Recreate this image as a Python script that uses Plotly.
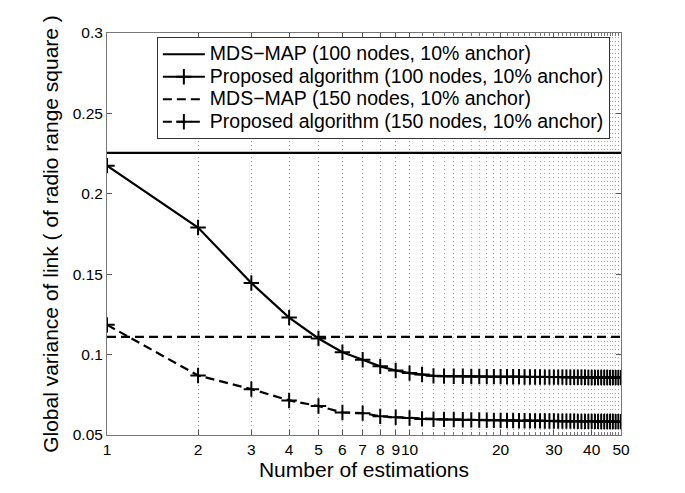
import plotly.graph_objects as go

# ---------------- data ----------------
estimations = list(range(1, 51))

mds_map_100 = 0.2255
mds_map_150 = 0.1110

proposed_100 = [0.2175, 0.1790, 0.1445, 0.1230, 0.1100, 0.1015, 0.0968, 0.0927, 0.0901, 0.0885,
                0.0876, 0.0868, 0.0866, 0.0865, 0.0865, 0.0864, 0.0864, 0.0863, 0.0863, 0.0863,
                0.0862, 0.0862, 0.0862, 0.0861, 0.0861, 0.0861, 0.0861, 0.0860, 0.0860, 0.0860,
                0.0860, 0.0860, 0.0859, 0.0859, 0.0859, 0.0859, 0.0859, 0.0859, 0.0858, 0.0858,
                0.0858, 0.0858, 0.0858, 0.0858, 0.0858, 0.0857, 0.0857, 0.0857, 0.0857, 0.0857]

proposed_150 = [0.1185, 0.0870, 0.0785, 0.0715, 0.0680, 0.0640, 0.0636, 0.0616, 0.0610, 0.0606,
                0.0600, 0.0598, 0.0597, 0.0596, 0.0595, 0.0594, 0.0593, 0.0592, 0.0591, 0.0591,
                0.0590, 0.0590, 0.0589, 0.0589, 0.0588, 0.0588, 0.0588, 0.0587, 0.0587, 0.0587,
                0.0586, 0.0586, 0.0586, 0.0586, 0.0586, 0.0585, 0.0585, 0.0585, 0.0585, 0.0585,
                0.0585, 0.0585, 0.0584, 0.0584, 0.0584, 0.0584, 0.0584, 0.0583, 0.0583, 0.0583]

names = ["MDS\u2212MAP (100 nodes, 10% anchor)",
         "Proposed algorithm (100 nodes, 10% anchor)",
         "MDS\u2212MAP (150 nodes, 10% anchor)",
         "Proposed algorithm (150 nodes, 10% anchor)"]

x_major_ticks = [1, 2, 3, 4, 5, 6, 7, 8, 9, 10, 20, 30, 40, 50]
x_minor_ticks = [v for v in range(11, 50) if v not in (20, 30, 40)]
y_ticks = [0.05, 0.1, 0.15, 0.2, 0.25, 0.3]

# ---------------- figure ----------------
FONT = "Liberation Sans, Arial, Helvetica, sans-serif"


def legend_label(s):
    return '<span style="font-size:19.5px">' + s + '</span>'


fig = go.Figure()

fig.add_trace(go.Scatter(
    x=[estimations[0], estimations[-1]], y=[mds_map_100, mds_map_100],
    mode="lines", name=legend_label(names[0]),
    line=dict(color="black", width=2.2)))

fig.add_trace(go.Scatter(
    x=estimations, y=proposed_100, mode="lines+markers", name=legend_label(names[1]),
    line=dict(color="black", width=2.2),
    marker=dict(symbol="cross-thin", size=11, line=dict(color="black", width=2))))

fig.add_trace(go.Scatter(
    x=[estimations[0], estimations[-1]], y=[mds_map_150, mds_map_150],
    mode="lines", name=legend_label(names[2]),
    line=dict(color="black", width=2.2, dash="9px,5px")))

fig.add_trace(go.Scatter(
    x=estimations, y=proposed_150, mode="lines+markers", name=legend_label(names[3]),
    line=dict(color="black", width=2.2, dash="9px,5px"),
    marker=dict(symbol="cross-thin", size=11, line=dict(color="black", width=2))))

# the page body adds an 8px margin around the plot div
fig.update_layout(
    width=677, height=485,
    margin=dict(l=99, r=64, t=25, b=58, pad=0),
    paper_bgcolor="white", plot_bgcolor="white",
    font=dict(family=FONT, color="black", size=15),
    showlegend=True,
    legend=dict(
        x=0.097, y=0.99, xanchor="left", yanchor="top",
        bgcolor="white", bordercolor="#333", borderwidth=1,
        font=dict(family=FONT, size=15, color="black"),
        itemwidth=42, tracegroupgap=0),
)

fig.update_xaxes(
    type="log", range=[0, 1.69897],
    tickmode="array", tickvals=x_major_ticks,
    ticktext=[str(v) for v in x_major_ticks], tickangle=0,
    ticks="inside", ticklen=5, tickcolor="#555",
    showline=True, linecolor="#777", linewidth=1, mirror="ticks",
    showgrid=True, gridcolor="#999", griddash="1px,3px", gridwidth=1,
    minor=dict(tickmode="array", tickvals=x_minor_ticks, ticks="inside",
               ticklen=3, tickcolor="#777", showgrid=True,
               gridcolor="#aaa", griddash="1px,3px", gridwidth=1),
    zeroline=False,
    tickfont=dict(size=15.5),
    title=dict(text="Number of estimations", font=dict(size=21), standoff=0),
    automargin=False,
)

fig.update_yaxes(
    range=[0.05, 0.3], tickmode="array", tickvals=y_ticks,
    ticktext=["0.05", "0.1", "0.15", "0.2", "0.25", "0.3"],
    ticks="inside", ticklen=5, tickcolor="#555",
    showline=True, linecolor="#777", linewidth=1, mirror="ticks",
    showgrid=False, zeroline=False,
    tickfont=dict(size=15.5),
    title=dict(text="Global variance of link ( of radio range square )",
               font=dict(size=21), standoff=8),
    automargin=False,
)

fig.write_html("out.html")
